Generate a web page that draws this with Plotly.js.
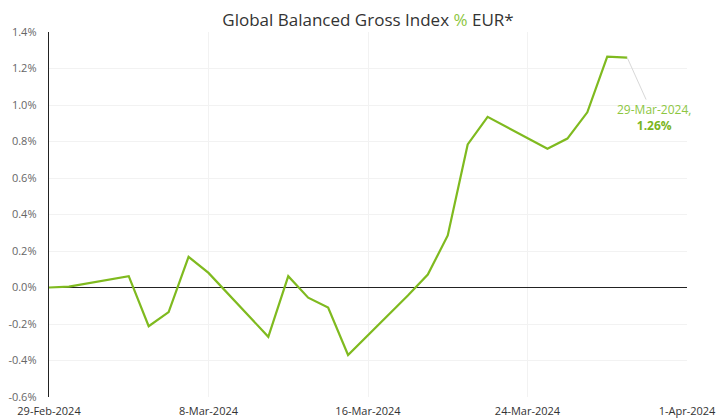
<!DOCTYPE html>
<html>
<head>
<meta charset="utf-8">
<script src="https://cdn.plot.ly/plotly-3.0.1.min.js"></script>
<style>html,body{margin:0;padding:0;background:#fff;}#chart{width:717px;height:419px;}</style>
</head>
<body>
<div id="chart"></div>
<script>
const dates = ['2024-02-29','2024-03-01','2024-03-04','2024-03-05','2024-03-06','2024-03-07','2024-03-08',
  '2024-03-11','2024-03-12','2024-03-13','2024-03-14','2024-03-15','2024-03-18','2024-03-19','2024-03-20',
  '2024-03-21','2024-03-22','2024-03-25','2024-03-26','2024-03-27','2024-03-28','2024-03-29'];
const values = [0.0, 0.005, 0.062, -0.212, -0.135, 0.168, 0.08,
  -0.27, 0.062, -0.056, -0.11, -0.37, -0.044, 0.071, 0.285,
  0.784, 0.935, 0.76, 0.816, 0.96, 1.265, 1.26];
const yTicks = [-0.6,-0.4,-0.2,0,0.2,0.4,0.6,0.8,1.0,1.2,1.4];
const lastLabel = '29-Mar-2024,';
const lastValue = '1.26%';

const green = '#7fba1f';
const trace = {
  x: dates, y: values, type: 'scatter', mode: 'lines',
  line: {color: green, width: 2.2}, hoverinfo: 'skip'
};
const font = "'Open Sans', 'Noto Sans', sans-serif";
const layout = {
  width: 717, height: 419,
  margin: {l: 49, r: 30, t: 32, b: 22},
  paper_bgcolor: '#fff', plot_bgcolor: '#fff',
  showlegend: false,
  font: {family: font, size: 11, color: '#555'},
  title: {
    text: 'Global Balanced Gross Index <span style="color:#8dc63f">%</span> EUR*',
    font: {family: font, size: 17, color: '#333'},
    x: 0.5, xref: 'paper', xanchor: 'center', y: 0.952, yref: 'container', yanchor: 'middle'
  },
  xaxis: {
    type: 'date', range: ['2024-02-29', '2024-04-01'],
    tick0: '2024-02-29', dtick: 8*86400000, tickformat: '%-d-%b-%Y',
    showgrid: true, gridcolor: '#f2f2f2', gridwidth: 1,
    zeroline: false, showline: false, ticks: '', ticklabelstandoff: 6,
    tickfont: {family: font, size: 11, color: '#333'}
  },
  yaxis: {
    range: [-0.6, 1.4], tickvals: yTicks,
    ticktext: yTicks.map(v => v.toFixed(1) + '%'),
    showgrid: true, gridcolor: '#f2f2f2', gridwidth: 1,
    zeroline: true, zerolinecolor: '#222', zerolinewidth: 1.3,
    showline: true, linecolor: '#222', linewidth: 1.3,
    ticks: 'outside', ticklen: 9, tickcolor: 'rgba(0,0,0,0)',
    tickfont: {family: font, size: 11, color: '#666'}
  },
  annotations: [{
    x: dates[dates.length-1], y: values[values.length-1], xref: 'x', yref: 'y',
    text: lastLabel + '<br><b style="color:#7ab51d">' + lastValue + '</b>',
    align: 'center', showarrow: true, arrowhead: 0, arrowwidth: 1, arrowcolor: '#d8d8d8',
    ax: 27, ay: 60, font: {family: font, size: 12, color: '#8dc63f'}
  }]
};
Plotly.newPlot('chart', [trace], layout, {displayModeBar: false, staticPlot: true});
</script>
</body>
</html>
